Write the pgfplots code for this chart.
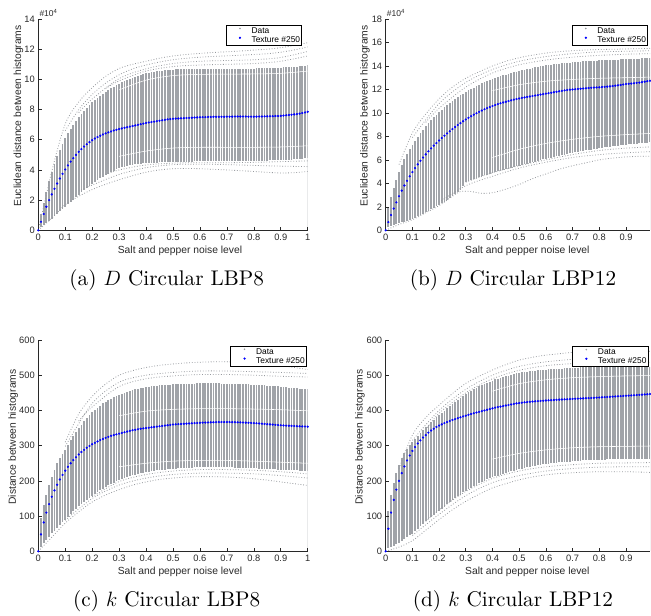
\documentclass[border=0pt]{standalone}
\usepackage{fontspec}
\usepackage{pgfplots}
\pgfplotsset{compat=1.18}
\usepackage{pgfplotstable}
\newfontfamily\sansf{Liberation Sans}
\newfontfamily\capfont{lmroman10-regular}[Extension=.otf, ItalicFont=lmroman10-italic]
\newcommand\tickfont{\sansf\fontsize{9.3}{10}\selectfont}
\newcommand\labfont{\sansf\fontsize{10.3}{12}\selectfont}
\newcommand\legfont{\sansf\fontsize{8.4}{9.5}\selectfont}
\newcommand\expfont{\sansf\fontsize{8.5}{9}\selectfont}
\definecolor{dgray}{RGB}{160,163,168}
\definecolor{ogray}{RGB}{150,153,158}
\definecolor{axc}{RGB}{40,40,40}

\pgfplotstableread[row sep=\\]{
x lo hi b\\
0.00 0 0 0\\ 0.01 0.22 1.10 0.57\\ 0.02 0.36 1.80 1.08\\ 0.03 0.48 2.55 1.56\\ 0.04 0.62 3.25 2.00\\
0.05 0.78 3.85 2.38\\ 0.06 0.95 4.40 2.75\\ 0.07 1.10 4.90 3.10\\ 0.08 1.25 5.35 3.43\\ 0.09 1.40 5.75 3.74\\
0.10 1.55 6.10 4.03\\ 0.11 1.72 6.42 4.30\\ 0.12 1.88 6.72 4.55\\ 0.13 2.04 7.00 4.78\\ 0.14 2.20 7.26 5.00\\
0.15 2.36 7.50 5.20\\ 0.16 2.52 7.72 5.38\\ 0.17 2.67 7.93 5.55\\ 0.18 2.82 8.12 5.70\\ 0.19 2.96 8.30 5.84\\
0.20 3.10 8.47 5.97\\ 0.21 3.22 8.63 6.08\\ 0.22 3.34 8.78 6.18\\ 0.23 3.45 8.92 6.27\\ 0.24 3.56 9.05 6.35\\
0.25 3.66 9.18 6.42\\ 0.26 3.76 9.30 6.49\\ 0.27 3.86 9.41 6.55\\ 0.28 3.95 9.52 6.61\\ 0.29 4.04 9.62 6.66\\
0.30 4.12 9.72 6.71\\ 0.31 4.17 9.81 6.75\\ 0.32 4.22 9.89 6.79\\ 0.33 4.26 9.97 6.83\\ 0.34 4.30 10.04 6.87\\
0.35 4.33 10.11 6.91\\ 0.36 4.36 10.17 6.95\\ 0.37 4.39 10.23 6.99\\ 0.38 4.41 10.29 7.03\\ 0.39 4.43 10.34 7.07\\
0.40 4.45 10.39 7.11\\ 0.41 4.46 10.43 7.14\\ 0.42 4.47 10.47 7.17\\ 0.43 4.48 10.50 7.20\\ 0.44 4.49 10.53 7.23\\
0.45 4.50 10.56 7.26\\ 0.46 4.51 10.58 7.29\\ 0.47 4.52 10.60 7.32\\ 0.48 4.52 10.62 7.35\\ 0.49 4.53 10.63 7.37\\
0.50 4.53 10.65 7.39\\ 0.51 4.54 10.66 7.40\\ 0.52 4.54 10.67 7.41\\ 0.53 4.54 10.67 7.42\\ 0.54 4.55 10.68 7.43\\
0.55 4.55 10.68 7.44\\ 0.56 4.55 10.69 7.45\\ 0.57 4.55 10.69 7.46\\ 0.58 4.56 10.70 7.47\\ 0.59 4.56 10.70 7.48\\
0.60 4.56 10.70 7.49\\ 0.61 4.56 10.70 7.50\\ 0.62 4.56 10.70 7.50\\ 0.63 4.56 10.71 7.51\\ 0.64 4.56 10.71 7.51\\
0.65 4.56 10.71 7.52\\ 0.66 4.56 10.71 7.52\\ 0.67 4.57 10.71 7.52\\ 0.68 4.57 10.71 7.52\\ 0.69 4.57 10.71 7.52\\
0.70 4.57 10.71 7.53\\ 0.71 4.57 10.71 7.53\\ 0.72 4.57 10.71 7.53\\ 0.73 4.57 10.72 7.54\\ 0.74 4.57 10.72 7.54\\
0.75 4.57 10.72 7.54\\ 0.76 4.58 10.72 7.54\\ 0.77 4.58 10.72 7.54\\ 0.78 4.58 10.72 7.53\\ 0.79 4.58 10.72 7.53\\
0.80 4.58 10.72 7.53\\ 0.81 4.59 10.73 7.53\\ 0.82 4.60 10.73 7.54\\ 0.83 4.61 10.74 7.54\\ 0.84 4.62 10.74 7.55\\
0.85 4.62 10.75 7.55\\ 0.86 4.63 10.75 7.56\\ 0.87 4.63 10.76 7.56\\ 0.88 4.64 10.77 7.57\\ 0.89 4.64 10.77 7.57\\
0.90 4.65 10.78 7.58\\ 0.91 4.66 10.79 7.60\\ 0.92 4.67 10.80 7.62\\ 0.93 4.68 10.81 7.64\\ 0.94 4.69 10.82 7.66\\
0.95 4.70 10.83 7.68\\ 0.96 4.71 10.85 7.70\\ 0.97 4.73 10.86 7.73\\ 0.98 4.74 10.88 7.77\\ 0.99 4.76 10.90 7.81\\
1.00 4.78 10.92 7.85\\
}\tabA

\pgfplotstableread[row sep=\\]{
x lo hi b\\
0.00 0 0 0\\ 0.01 0.30 2.00 0.70\\ 0.02 0.37 2.80 1.30\\ 0.03 0.45 3.60 1.85\\ 0.04 0.52 4.30 2.38\\
0.05 0.60 4.95 2.90\\ 0.06 0.67 5.55 3.38\\ 0.07 0.74 6.05 3.82\\ 0.08 0.81 6.50 4.22\\ 0.09 0.88 6.90 4.60\\
0.10 0.95 7.28 4.96\\ 0.11 1.07 7.62 5.30\\ 0.12 1.19 7.95 5.62\\ 0.13 1.31 8.27 5.92\\ 0.14 1.43 8.57 6.20\\
0.15 1.55 8.85 6.47\\ 0.16 1.67 9.12 6.73\\ 0.17 1.79 9.38 6.98\\ 0.18 1.91 9.62 7.21\\ 0.19 2.03 9.85 7.43\\
0.20 2.15 10.07 7.65\\ 0.21 2.30 10.28 7.86\\ 0.22 2.45 10.48 8.06\\ 0.23 2.61 10.67 8.25\\ 0.24 2.77 10.85 8.44\\
0.25 2.93 11.02 8.62\\ 0.26 3.09 11.18 8.80\\ 0.27 3.25 11.34 8.97\\ 0.28 3.40 11.49 9.13\\ 0.29 3.80 11.63 9.29\\
0.30 4.10 11.77 9.44\\ 0.31 4.20 11.91 9.58\\ 0.32 4.28 12.04 9.72\\ 0.33 4.36 12.16 9.85\\ 0.34 4.44 12.28 9.97\\
0.35 4.52 12.40 10.09\\ 0.36 4.60 12.51 10.20\\ 0.37 4.68 12.61 10.31\\ 0.38 4.75 12.71 10.41\\ 0.39 4.83 12.81 10.50\\
0.40 4.90 12.90 10.59\\ 0.41 4.96 12.98 10.67\\ 0.42 5.02 13.06 10.75\\ 0.43 5.08 13.13 10.82\\ 0.44 5.14 13.20 10.89\\
0.45 5.20 13.27 10.95\\ 0.46 5.26 13.34 11.01\\ 0.47 5.32 13.40 11.07\\ 0.48 5.38 13.46 11.13\\ 0.49 5.44 13.52 11.18\\
0.50 5.50 13.58 11.23\\ 0.51 5.56 13.63 11.28\\ 0.52 5.62 13.68 11.32\\ 0.53 5.68 13.73 11.36\\ 0.54 5.74 13.78 11.40\\
0.55 5.80 13.83 11.44\\ 0.56 5.86 13.87 11.48\\ 0.57 5.92 13.92 11.52\\ 0.58 5.98 13.96 11.56\\ 0.59 6.04 14.00 11.60\\
0.60 6.10 14.04 11.64\\ 0.61 6.15 14.07 11.68\\ 0.62 6.20 14.10 11.72\\ 0.63 6.25 14.13 11.76\\ 0.64 6.30 14.16 11.80\\
0.65 6.35 14.19 11.84\\ 0.66 6.40 14.22 11.88\\ 0.67 6.45 14.25 11.92\\ 0.68 6.50 14.27 11.95\\ 0.69 6.55 14.29 11.98\\
0.70 6.60 14.31 12.00\\ 0.71 6.64 14.33 12.02\\ 0.72 6.68 14.35 12.04\\ 0.73 6.72 14.37 12.06\\ 0.74 6.76 14.39 12.08\\
0.75 6.80 14.41 12.10\\ 0.76 6.84 14.42 12.12\\ 0.77 6.88 14.43 12.14\\ 0.78 6.92 14.44 12.16\\ 0.79 6.96 14.45 12.17\\
0.80 7.00 14.47 12.18\\ 0.81 7.03 14.48 12.20\\ 0.82 7.06 14.49 12.22\\ 0.83 7.09 14.50 12.24\\ 0.84 7.12 14.52 12.26\\
0.85 7.15 14.53 12.29\\ 0.86 7.18 14.54 12.32\\ 0.87 7.21 14.55 12.35\\ 0.88 7.24 14.56 12.38\\ 0.89 7.27 14.57 12.42\\
0.90 7.30 14.58 12.46\\ 0.91 7.32 14.59 12.48\\ 0.92 7.34 14.60 12.50\\ 0.93 7.36 14.61 12.53\\ 0.94 7.38 14.62 12.56\\
0.95 7.40 14.63 12.58\\ 0.96 7.42 14.64 12.62\\ 0.97 7.44 14.65 12.66\\ 0.98 7.46 14.66 12.70\\ 0.99 7.48 14.67 12.74\\
}\tabB

\pgfplotstableread[row sep=\\]{
x lo hi b\\
0.00 0 0 0\\ 0.01 13 94 48\\ 0.02 23 131 82\\ 0.03 32 160 110\\ 0.04 41 188 134\\
0.05 51 212 155\\ 0.06 58 232 173\\ 0.07 66 250 189\\ 0.08 74 265 204\\ 0.09 82 277 217\\
0.10 90 288 229\\ 0.11 98 302 240\\ 0.12 106 315 250\\ 0.13 114 327 259\\ 0.14 121 339 267\\
0.15 128 350 275\\ 0.16 134 360 282\\ 0.17 140 370 288\\ 0.18 146 379 294\\ 0.19 152 387 299\\
0.20 158 395 304\\ 0.21 163 402 308\\ 0.22 168 408 312\\ 0.23 173 414 316\\ 0.24 178 420 319\\
0.25 183 425 322\\ 0.26 187 429 325\\ 0.27 191 433 328\\ 0.28 195 437 330\\ 0.29 199 441 332\\
0.30 203 445 334\\ 0.31 206 448 336\\ 0.32 208 450 338\\ 0.33 211 453 340\\ 0.34 213 455 342\\
0.35 216 458 344\\ 0.36 218 460 345\\ 0.37 220 461 346.5\\ 0.38 221 463 348\\ 0.39 223 464 349\\
0.40 225 466 350\\ 0.41 226 467 351\\ 0.42 227 468 352\\ 0.43 228 469 353\\ 0.44 230 470 354\\
0.45 231 471 355\\ 0.46 232 471 356\\ 0.47 232 472 357\\ 0.48 233 473 358\\ 0.49 234 473 359\\
0.50 235 474 360\\ 0.51 235 474 360.5\\ 0.52 236 475 361\\ 0.53 236 475 361.5\\ 0.54 236 475 362\\
0.55 237 476 362.5\\ 0.56 237 476 363\\ 0.57 237 476 363.5\\ 0.58 238 476 364\\ 0.59 238 477 364.5\\
0.60 238 477 365\\ 0.61 238 477 365.3\\ 0.62 238 477 365.6\\ 0.63 238 477 365.9\\ 0.64 238 477 366.2\\
0.65 238 477 366.5\\ 0.66 238 477 366.7\\ 0.67 238 477 366.9\\ 0.68 238 476 367\\ 0.69 238 476 367\\
0.70 238 476 367\\ 0.71 238 476 367\\ 0.72 238 476 366.8\\ 0.73 237 475 366.6\\ 0.74 237 475 366.3\\
0.75 237 475 366\\ 0.76 237 475 365.7\\ 0.77 237 474 365.3\\ 0.78 236 474 365\\ 0.79 236 473 364.5\\
0.80 236 473 364\\ 0.81 236 472 363.5\\ 0.82 235 472 363\\ 0.83 235 471 362.3\\ 0.84 234 471 361.6\\
0.85 234 470 361\\ 0.86 234 470 360.4\\ 0.87 233 469 359.8\\ 0.88 233 468 359.2\\ 0.89 232 468 358.6\\
0.90 232 467 358\\ 0.91 232 466 357.5\\ 0.92 231 466 357\\ 0.93 231 465 356.6\\ 0.94 230 464 356.2\\
0.95 230 464 355.8\\ 0.96 230 463 355.4\\ 0.97 229 462 355\\ 0.98 229 461 354.6\\ 0.99 228 461 354.3\\
1.00 228 460 354\\
}\tabC

\pgfplotstableread[row sep=\\]{
x lo hi b\\
0.00 0 0 0\\ 0.01 8 115 64\\ 0.02 12 160 110\\ 0.03 16 195 146\\ 0.04 20 222 175\\
0.05 25 245 200\\ 0.06 30 264 222\\ 0.07 35 279 241\\ 0.08 40 291 258\\ 0.09 45 301 272\\
0.10 50 310 285\\ 0.11 57 319 296\\ 0.12 64 328 306\\ 0.13 71 336 315\\ 0.14 78 344 323\\
0.15 85 352 330\\ 0.16 91 359 337\\ 0.17 97 366 343\\ 0.18 103 373 348\\ 0.19 109 380 353\\
0.20 115 386 357\\ 0.21 121 393 360.5\\ 0.22 127 399 364\\ 0.23 133 406 367\\ 0.24 139 412 370\\
0.25 145 418 373\\ 0.26 150 424 375.5\\ 0.27 156 430 378\\ 0.28 161 436 380.5\\ 0.29 167 441 383\\
0.30 172 446 385\\ 0.31 176 451 387.5\\ 0.32 181 455 390\\ 0.33 185 460 392\\ 0.34 189 464 394\\
0.35 193 468 396\\ 0.36 197 472 398\\ 0.37 200 475 400\\ 0.38 204 479 402\\ 0.39 207 482 404\\
0.40 210 485 406\\ 0.41 213 488 408\\ 0.42 215 490 409.5\\ 0.43 218 493 411\\ 0.44 220 495 412.5\\
0.45 223 497 414\\ 0.46 225 499 415.5\\ 0.47 227 501 417\\ 0.48 229 503 418.5\\ 0.49 231 505 420\\
0.50 233 506 421\\ 0.51 235 508 422\\ 0.52 236 509 423\\ 0.53 238 510 423.8\\ 0.54 239 511 424.5\\
0.55 241 512 425.2\\ 0.56 242 513 425.8\\ 0.57 244 514 426.4\\ 0.58 245 515 427\\ 0.59 247 515 427.6\\
0.60 248 516 428.2\\ 0.61 249 517 428.7\\ 0.62 250 517 429.2\\ 0.63 251 518 429.7\\ 0.64 252 518 430.2\\
0.65 253 519 430.7\\ 0.66 254 519 431.1\\ 0.67 254 520 431.5\\ 0.68 255 520 431.9\\ 0.69 255 521 432.3\\
0.70 256 521 432.7\\ 0.71 256 521 433.1\\ 0.72 257 521 433.5\\ 0.73 257 522 433.9\\ 0.74 258 522 434.3\\
0.75 258 522 434.7\\ 0.76 258 522 435.1\\ 0.77 259 522 435.5\\ 0.78 259 523 435.9\\ 0.79 260 523 436.3\\
0.80 260 523 436.7\\ 0.81 260 523 437.2\\ 0.82 260 523 437.7\\ 0.83 261 523 438.2\\ 0.84 261 523 438.7\\
0.85 261 523 439.2\\ 0.86 261 523 439.7\\ 0.87 262 524 440.2\\ 0.88 262 524 440.7\\ 0.89 262 524 441.2\\
0.90 262 524 441.7\\ 0.91 262 524 442.2\\ 0.92 263 524 442.7\\ 0.93 263 524 443.2\\ 0.94 263 524 443.7\\
0.95 263 524 444.2\\ 0.96 263 524 444.8\\ 0.97 263 524 445.4\\ 0.98 263 524 446\\ 0.99 263 524 446.6\\
}\tabD

\pgfplotsset{
 panel/.style={
   scale only axis, axis lines=left, axis line style={-, draw=axc, line width=0.6pt},
   axis on top=true,
   tick align=inside, major tick length=3.3pt, tick style={draw=axc, line width=0.6pt},
   xmin=0, ymin=0, enlargelimits=false,
   /pgf/number format/assume math mode=true,
   tick label style={font=\tickfont, text=axc},
   xlabel={Salt and pepper noise level},
   label style={font=\labfont, text=axc},
   legend image code/.code={\path[draw=none,fill=none] (0pt,0pt) rectangle (24pt,5pt); \draw[##1] plot coordinates {(13pt,2.7pt)};},
   legend cell align=left,
   legend style={draw=black, line width=0.6pt, fill=white, font=\legfont, inner xsep=1pt, inner ysep=1pt, row sep=0pt, nodes={inner sep=0.6pt}, anchor=north east},
 },
 hiS/.style={forget plot, ycomb, mark=none, draw=dgray, line width=1.8pt},
 loS/.style={forget plot, ycomb, mark=none, draw=white, line width=2.3pt},
 gap/.style={forget plot, draw=white, line width=0.55pt, smooth, mark=none},
 outl/.style={forget plot, draw=ogray, line width=0.8pt, dash pattern=on 0.8pt off 1.9pt, smooth, mark=none},
 tex/.style={forget plot, only marks, mark=*, mark size=0.9pt, color=blue, mark options={draw=none, fill=blue}},
}
\newcommand\legs{%
  \addlegendimage{only marks, mark=*, mark size=0.45pt, color=ogray, mark options={draw=none, fill=ogray}}
  \addlegendentry{Data}
  \addlegendimage{only marks, mark=*, mark size=0.8pt, color=blue, mark options={draw=none, fill=blue}}
  \addlegendentry{Texture \#250}}

\begin{document}
\begin{tikzpicture}
\path[use as bounding box] (0pt,0pt) rectangle (651pt,-616pt);

% (a)
\begin{axis}[panel, at={(38.3pt,-230.3pt)}, anchor=south west, width=269.4pt, height=211.3pt,
  xmax=1, ymax=14, xtick={0,0.1,0.2,0.3,0.4,0.5,0.6,0.7,0.8,0.9,1}, ytick={0,2,4,6,8,10,12,14},
  ylabel={Euclidean distance between histograms},
  xlabel style={at={(rel axis cs:0.526,0)}, anchor=center, yshift=-21pt},
  ylabel style={at={(rel axis cs:-0.074,0.541)}, anchor=center},
  legend style={at={(rel axis cs:0.979,0.972)}},
  extra description/.code={\node[anchor=base west, inner sep=0pt, font=\expfont, text=axc, xshift=1pt, yshift=2.3pt] at (0,1) {\#10\textsuperscript{4}};}]
\legs
\addplot[hiS] table[x=x, y=hi] \tabA;
\addplot[loS] table[x=x, y=lo] \tabA;
\addplot[gap] coordinates {(0.3,9.3)(0.4,9.95)(0.5,10.25)(0.6,10.33)(0.7,10.35)(0.8,10.36)(0.9,10.4)(1,10.55)};
\addplot[gap] coordinates {(0.3,4.9)(0.4,5.25)(0.5,5.45)(0.6,5.5)(0.7,5.5)(0.8,5.5)(0.9,5.52)(1,5.6)};
\addplot[outl] coordinates {(0,0)(0.05,3.9)(0.1,7.05)(0.15,8.5)(0.2,9.45)(0.25,10.2)(0.3,10.72)(0.35,11.0)(0.4,11.2)(0.45,11.4)(0.5,11.55)(0.55,11.65)(0.6,11.72)(0.65,11.78)(0.7,11.83)(0.75,11.88)(0.8,11.94)(0.85,12.0)(0.9,12.1)(0.95,12.25)(1,12.43)};
\addplot[outl] coordinates {(0.1,6.6)(0.15,8.0)(0.2,9.0)(0.25,9.75)(0.3,10.3)(0.35,10.7)(0.4,10.95)(0.45,11.15)(0.5,11.3)(0.55,11.4)(0.6,11.47)(0.65,11.52)(0.7,11.56)(0.75,11.6)(0.8,11.65)(0.85,11.7)(0.9,11.8)(0.95,11.95)(1,12.15)};
\addplot[outl] coordinates {(0.15,7.8)(0.2,8.7)(0.3,10.05)(0.4,10.7)(0.5,11.05)(0.6,11.2)(0.7,11.25)(0.8,11.3)(0.9,11.45)(1,11.85)};
\addplot[outl] coordinates {(0.25,9.4)(0.3,9.9)(0.4,10.55)(0.5,10.85)(0.6,10.95)(0.7,11.0)(0.8,11.05)(0.9,11.2)(1,11.55)};
\addplot[outl] coordinates {(0,0)(0.05,0.8)(0.1,1.7)(0.15,2.25)(0.2,2.7)(0.25,3.05)(0.3,3.35)(0.35,3.62)(0.4,3.85)(0.45,4.0)(0.5,4.08)(0.55,4.1)(0.6,4.08)(0.65,4.04)(0.7,4.0)(0.75,3.95)(0.8,3.9)(0.85,3.84)(0.9,3.8)(0.95,3.82)(1,3.9)};
\addplot[outl] coordinates {(0.15,2.6)(0.2,3.0)(0.3,3.7)(0.4,4.15)(0.5,4.35)(0.6,4.38)(0.7,4.35)(0.8,4.3)(0.9,4.25)(1,4.22)};
\addplot[outl] coordinates {(0.25,3.7)(0.3,4.0)(0.4,4.33)(0.5,4.45)(0.6,4.48)(0.7,4.48)(0.8,4.5)(0.9,4.55)(1,4.6)};
\addplot[tex] table[x=x, y=b] \tabA;
\end{axis}

% (b)
\begin{axis}[panel, at={(385.7pt,-230.3pt)}, anchor=south west, width=264.3pt, height=211.3pt,
  xmax=0.99, ymax=18, xtick={0,0.1,0.2,0.3,0.4,0.5,0.6,0.7,0.8,0.9}, ytick={0,2,4,6,8,10,12,14,16,18},
  ylabel={Euclidean distance between histograms},
  xlabel style={at={(rel axis cs:0.536,0)}, anchor=center, yshift=-21pt},
  ylabel style={at={(rel axis cs:-0.078,0.541)}, anchor=center},
  legend style={at={(rel axis cs:0.992,0.972)}},
  extra description/.code={\node[anchor=base west, inner sep=0pt, font=\expfont, text=axc, xshift=1pt, yshift=2.3pt] at (0,1) {\#10\textsuperscript{4}};}]
\legs
\addplot[hiS] table[x=x, y=hi] \tabB;
\addplot[loS] table[x=x, y=lo] \tabB;
\addplot[gap] coordinates {(0.4,11.9)(0.5,12.4)(0.6,12.7)(0.7,12.85)(0.8,12.95)(0.9,13.0)(0.99,13.05)};
\addplot[gap] coordinates {(0.4,6.2)(0.5,6.9)(0.6,7.4)(0.7,7.75)(0.8,8.0)(0.9,8.15)(0.99,8.25)};
\addplot[outl] coordinates {(0.05,5.6)(0.1,8.3)(0.15,9.9)(0.2,11.2)(0.25,12.2)(0.3,12.95)(0.35,13.5)(0.4,14.0)(0.45,14.4)(0.5,14.7)(0.55,14.92)(0.6,15.1)(0.65,15.22)(0.7,15.3)(0.75,15.36)(0.8,15.4)(0.85,15.42)(0.9,15.45)(0.95,15.48)(0.99,15.5)};
\addplot[outl] coordinates {(0.1,7.9)(0.2,10.8)(0.3,12.6)(0.4,13.7)(0.5,14.4)(0.6,14.8)(0.7,15.05)(0.8,15.2)(0.9,15.25)(0.99,15.3)};
\addplot[outl] coordinates {(0.15,9.2)(0.2,10.4)(0.3,12.2)(0.4,13.4)(0.5,14.1)(0.6,14.5)(0.7,14.75)(0.8,14.9)(0.9,15.0)(0.99,15.05)};
\addplot[outl] coordinates {(0,0)(0.05,0.5)(0.1,0.9)(0.15,1.5)(0.2,2.1)(0.25,2.9)(0.28,3.3)(0.32,3.3)(0.36,3.15)(0.4,3.2)(0.45,3.5)(0.5,3.9)(0.55,4.4)(0.6,4.8)(0.65,5.2)(0.7,5.5)(0.75,5.75)(0.8,6.0)(0.85,6.15)(0.9,6.25)(0.95,6.3)(0.99,6.3)};
\addplot[outl] coordinates {(0.2,2.4)(0.3,3.8)(0.4,4.6)(0.5,5.3)(0.6,5.8)(0.7,6.2)(0.8,6.45)(0.9,6.6)(0.99,6.7)};
\addplot[outl] coordinates {(0.3,4.1)(0.4,4.9)(0.5,5.5)(0.6,6.0)(0.7,6.45)(0.8,6.8)(0.9,7.0)(0.99,7.1)};
\addplot[tex] table[x=x, y=b] \tabB;
\end{axis}

% (c)
\begin{axis}[panel, at={(38.3pt,-551.3pt)}, anchor=south west, width=269.4pt, height=211.3pt,
  xmax=1, ymax=600, xtick={0,0.1,0.2,0.3,0.4,0.5,0.6,0.7,0.8,0.9,1}, ytick={0,100,200,300,400,500,600},
  ylabel={Distance between histograms},
  xlabel style={at={(rel axis cs:0.526,0)}, anchor=center, yshift=-21pt},
  ylabel style={at={(rel axis cs:-0.093,0.541)}, anchor=center},
  legend style={at={(rel axis cs:0.996,0.973)}}]
\legs
\addplot[hiS] table[x=x, y=hi] \tabC;
\addplot[loS] table[x=x, y=lo] \tabC;
\addplot[gap] coordinates {(0.3,385)(0.4,398)(0.5,403)(0.6,405)(0.7,405)(0.8,404)(0.9,402)(1,399)};
\addplot[gap] coordinates {(0.3,240)(0.4,250)(0.5,256)(0.6,258)(0.7,258)(0.8,256)(0.9,253)(1,250)};
\addplot[outl] coordinates {(0.1,310)(0.15,390)(0.2,440)(0.25,475)(0.3,500)(0.35,513)(0.4,522)(0.45,528)(0.5,532)(0.55,535)(0.6,537)(0.65,538)(0.7,538)(0.75,537)(0.8,535)(0.85,532)(0.9,528)(0.95,522)(1,516)};
\addplot[outl] coordinates {(0.1,298)(0.2,420)(0.3,480)(0.4,500)(0.5,508)(0.6,512)(0.7,512)(0.8,510)(0.9,508)(1,505)};
\addplot[outl] coordinates {(0.15,370)(0.2,410)(0.3,468)(0.4,490)(0.5,498)(0.6,502)(0.7,502)(0.8,500)(0.9,497)(1,495)};
\addplot[outl] coordinates {(0,0)(0.05,40)(0.1,80)(0.15,112)(0.2,140)(0.25,160)(0.3,175)(0.35,188)(0.4,197)(0.45,204)(0.5,208)(0.55,211)(0.6,212)(0.65,212)(0.7,211)(0.75,209)(0.8,206)(0.85,202)(0.9,197)(0.95,192)(1,187)};
\addplot[outl] coordinates {(0.1,88)(0.2,150)(0.3,188)(0.4,208)(0.5,218)(0.6,222)(0.7,222)(0.8,220)(0.9,215)(1,208)};
\addplot[outl] coordinates {(0.2,155)(0.3,198)(0.4,218)(0.5,228)(0.6,232)(0.7,232)(0.8,230)(0.9,226)(1,220)};
\addplot[tex] table[x=x, y=b] \tabC;
\end{axis}

% (d)
\begin{axis}[panel, at={(385.7pt,-551.3pt)}, anchor=south west, width=264.3pt, height=211.3pt,
  xmax=0.99, ymax=600, xtick={0,0.1,0.2,0.3,0.4,0.5,0.6,0.7,0.8,0.9}, ytick={0,100,200,300,400,500,600},
  ylabel={Distance between histograms},
  xlabel style={at={(rel axis cs:0.536,0)}, anchor=center, yshift=-21pt},
  ylabel style={at={(rel axis cs:-0.097,0.541)}, anchor=center},
  legend style={at={(rel axis cs:0.994,0.972)}}]
\legs
\addplot[hiS] table[x=x, y=hi] \tabD;
\addplot[loS] table[x=x, y=lo] \tabD;
\addplot[gap] coordinates {(0.4,262)(0.5,278)(0.6,288)(0.7,294)(0.8,297)(0.9,298)(0.99,299)};
\addplot[gap] coordinates {(0.4,455)(0.5,476)(0.6,487)(0.7,493)(0.8,496)(0.9,498)(0.99,499)};
\addplot[outl] coordinates {(0.05,235)(0.1,330)(0.15,380)(0.2,415)(0.25,448)(0.3,477)(0.35,497)(0.4,515)(0.45,530)(0.5,543)(0.55,551)(0.6,557)(0.65,561)(0.7,565)(0.75,566)(0.8,567)(0.85,568)(0.9,568)(0.95,568)(0.99,568)};
\addplot[outl] coordinates {(0.1,315)(0.2,400)(0.3,460)(0.4,500)(0.5,525)(0.6,538)(0.7,545)(0.8,548)(0.9,550)(0.99,550)};
\addplot[outl] coordinates {(0.15,345)(0.2,392)(0.3,450)(0.4,490)(0.5,514)(0.6,527)(0.7,533)(0.8,536)(0.9,537)(0.99,537)};
\addplot[outl] coordinates {(0,0)(0.05,12)(0.1,30)(0.15,60)(0.2,90)(0.25,118)(0.3,142)(0.35,162)(0.4,180)(0.45,192)(0.5,203)(0.55,211)(0.6,217)(0.65,221)(0.7,223)(0.75,225)(0.8,226)(0.85,226)(0.9,226)(0.95,225)(0.99,224)};
\addplot[outl] coordinates {(0.1,45)(0.2,105)(0.3,158)(0.4,195)(0.5,215)(0.6,228)(0.7,235)(0.8,239)(0.9,240)(0.99,240)};
\addplot[outl] coordinates {(0.15,85)(0.2,118)(0.3,170)(0.4,207)(0.5,228)(0.6,240)(0.7,246)(0.8,250)(0.9,251)(0.99,252)};
\addplot[tex] table[x=x, y=b] \tabD;
\end{axis}

\node[font=\capfont\fontsize{21.2}{25}\selectfont] at (166.7pt,-280pt) {(a) $D$ Circular LBP8};
\node[font=\capfont\fontsize{21.2}{25}\selectfont] at (513pt,-280pt) {(b) $D$ Circular LBP12};
\node[font=\capfont\fontsize{21.2}{25}\selectfont] at (166.7pt,-601pt) {(c) $k$ Circular LBP8};
\node[font=\capfont\fontsize{21.2}{25}\selectfont] at (513pt,-601pt) {(d) $k$ Circular LBP12};
\end{tikzpicture}
\end{document}
